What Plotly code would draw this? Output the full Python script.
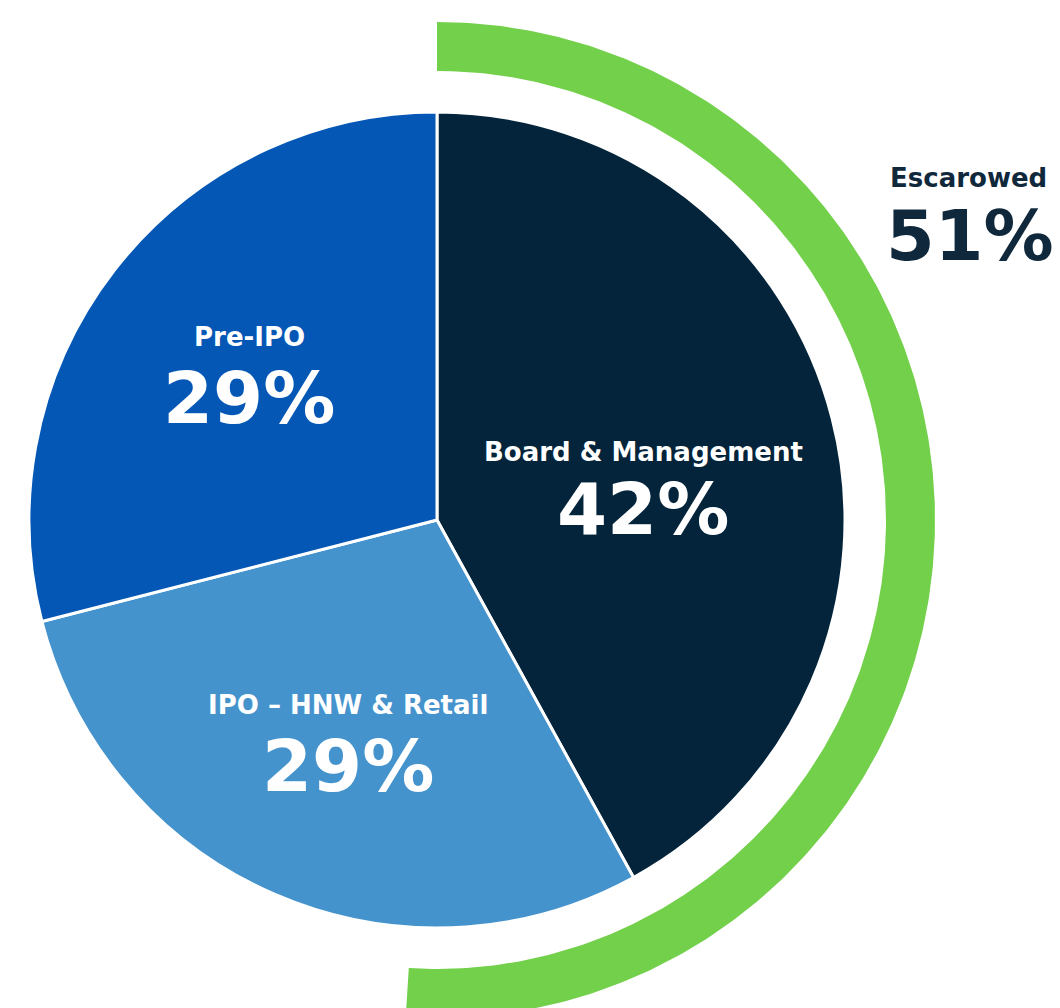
import numpy as np
import plotly.graph_objects as go

# ---- data ----
slice_labels = ["Board & Management", "IPO – HNW & Retail", "Pre-IPO"]
slice_values = [42, 29, 29]
slice_colors = ["#03243a", "#4593cd", "#0457b5"]
escrow_label = "Escarowed"
escrow_value = 51

W, H = 1060, 1008
CX, CY = 437, 520          # pie centre in pixels
R_PIE = 408
R_RING_OUT, R_RING_IN = 498, 449
FONT = "DejaVu Sans"

fig = go.Figure()

# main pie
fig.add_trace(go.Pie(
    labels=slice_labels, values=slice_values, sort=False,
    direction="clockwise", rotation=0,
    marker=dict(colors=slice_colors, line=dict(color="white", width=3)),
    textinfo="none", hoverinfo="skip", showlegend=False,
    domain=dict(x=[(CX - R_PIE) / W, (CX + R_PIE) / W],
                y=[1 - (CY + R_PIE) / H, 1 - (CY - R_PIE) / H]),
))

# escrow arc (share of full circle from the value)
theta = np.linspace(0, 2 * np.pi * escrow_value / 100, 300)
xo = CX + R_RING_OUT * np.sin(theta)
yo = CY - R_RING_OUT * np.cos(theta)
xi = CX + R_RING_IN * np.sin(theta[::-1])
yi = CY - R_RING_IN * np.cos(theta[::-1])
fig.add_trace(go.Scatter(
    x=np.concatenate([xo, xi, xo[:1]]), y=np.concatenate([yo, yi, yo[:1]]),
    mode="lines", fill="toself", fillcolor="#72d04a",
    line=dict(color="#72d04a", width=0), hoverinfo="skip", showlegend=False,
))

def pct(v):
    return f"{v}%"

ann_pos = {
    "Board & Management": (643, 452, 509),
    "IPO – HNW & Retail": (348, 705, 766),
    "Pre-IPO": (249, 337, 398),
}
for lab, val in zip(slice_labels, slice_values):
    x, y1, y2 = ann_pos[lab]
    fig.add_annotation(x=x, y=y1, text=lab, showarrow=False,
                       font=dict(family=FONT, size=26, color="white", weight=700),
                       xanchor="center", yanchor="middle")
    fig.add_annotation(x=x, y=y2, text=pct(val), showarrow=False,
                       font=dict(family=FONT, size=72, color="white", weight=700),
                       xanchor="center", yanchor="middle")

fig.add_annotation(x=888, y=178, text=escrow_label, showarrow=False,
                   font=dict(family=FONT, size=26, color="#10283b", weight=700),
                   xanchor="left", yanchor="middle")
fig.add_annotation(x=884, y=236, text=pct(escrow_value), showarrow=False,
                   font=dict(family=FONT, size=70, color="#10283b", weight=700),
                   xanchor="left", yanchor="middle")

fig.update_layout(
    width=W, height=H, margin=dict(l=0, r=0, t=0, b=0),
    paper_bgcolor="white", plot_bgcolor="white",
    xaxis=dict(range=[0, W], visible=False, fixedrange=True),
    yaxis=dict(range=[H, 0], visible=False, fixedrange=True),
    hovermode=False,
)

fig.write_html("out.html", config={"displayModeBar": False})
